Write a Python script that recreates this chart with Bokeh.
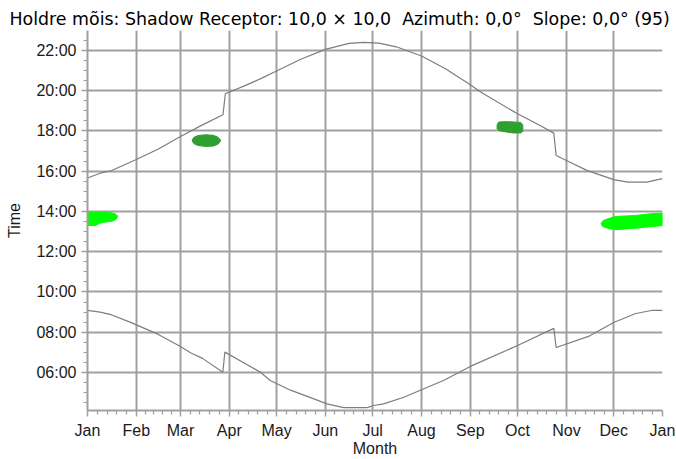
from bokeh.plotting import figure
from bokeh.models import Range1d, FixedTicker
from bokeh.embed import file_html
from bokeh.resources import INLINE

# ---------------- data ----------------
month_labels = ["Jan", "Feb", "Mar", "Apr", "May", "Jun", "Jul",
                "Aug", "Sep", "Oct", "Nov", "Dec", "Jan"]
month_start_day = [0, 31, 59, 90, 120, 151, 181, 212, 243, 273, 304, 334, 365]

time_tick_hours = [6, 8, 10, 12, 14, 16, 18, 20, 22]
time_tick_labels = ["06:00", "08:00", "10:00", "12:00", "14:00",
                    "16:00", "18:00", "20:00", "22:00"]

# sunset curve (day of year, hour)
sunset_day = [0, 8, 15, 31, 45, 59, 73, 86, 87.5, 100, 110, 120, 135, 151,
              166, 175, 185, 196, 212, 227, 243, 249.5, 273, 287, 296, 297.5,
              304, 317, 334, 343, 355, 365]
sunset_hour = [15.66, 15.90, 16.02, 16.58, 17.10, 17.72, 18.30, 18.80, 19.85,
               20.25, 20.60, 20.98, 21.55, 22.05, 22.35, 22.40, 22.36, 22.18,
               21.72, 21.10, 20.30, 19.93, 18.85, 18.28, 17.89, 16.78, 16.53,
               16.04, 15.58, 15.46, 15.46, 15.63]

# sunrise curve (day of year, hour)
sunrise_day = [0, 8, 15, 27, 45, 59, 65.4, 73, 85.9, 87.2, 100, 109.8, 116,
               128.9, 143.7, 152, 162.7, 177.5, 181.7, 188, 200.8, 213.5, 226,
               243, 273, 296, 297.5, 318, 334, 348, 358, 365]
sunrise_hour = [9.08, 9.00, 8.87, 8.50, 7.89, 7.29, 6.98, 6.70, 6.01, 7.01,
                6.45, 6.01, 5.60, 5.12, 4.69, 4.44, 4.25, 4.25, 4.36, 4.44,
                4.77, 5.19, 5.60, 6.30, 7.34, 8.19, 7.24, 7.79, 8.48, 8.93,
                9.08, 9.08]

# shadow periods (day of year, start hour, end hour)
jan_day = [0, 5, 8, 12, 16, 18, 19]
jan_start = [13.30, 13.30, 13.42, 13.48, 13.52, 13.60, 13.72]
jan_end = [13.97, 13.97, 13.96, 13.95, 13.92, 13.86, 13.78]

mar_day = [66.5, 67.5, 70, 75, 80, 83, 84.4]
mar_start = [17.50, 17.37, 17.28, 17.23, 17.25, 17.35, 17.50]
mar_end = [17.55, 17.68, 17.77, 17.81, 17.78, 17.68, 17.55]

sep_day = [260, 261, 264, 270, 275, 276.3]
sep_start = [18.12, 18.02, 17.97, 17.90, 17.90, 17.98]
sep_end = [18.30, 18.44, 18.46, 18.45, 18.42, 18.30]

dec_day = [326, 327, 329, 335, 348, 358, 365]
dec_start = [13.39, 13.25, 13.19, 13.09, 13.17, 13.25, 13.30]
dec_end = [13.39, 13.52, 13.60, 13.75, 13.80, 13.89, 13.92]

title_text = ("Holdre mõis: Shadow Receptor: 10,0 × 10,0\u00a0 Azimuth: 0,0°"
              "\u00a0 Slope: 0,0° (95)")

# ---------------- styling ----------------
FONT = "Liberation Sans"
GRID = "#a0a0a0"
CURVE = "#7d7d7d"
LIME = "#00ff00"
DARK = "#2f9f2f"

p = figure(width=676, height=459, output_backend="svg", toolbar_location=None,
           x_range=Range1d(0, 365), y_range=Range1d(4.11, 22.99),
           title=title_text,
           min_border_left=87, min_border_right=14, min_border_top=30,
           min_border_bottom=49)

p.title.align = "left"
p.title.vertical_align = "top"
p.title.offset = -78
p.title.standoff = 0
p.title.text_font = "DejaVu Sans"
p.title.text_font_size = "17.4px"
p.title.text_font_style = "normal"
p.title.text_color = "#000000"

p.outline_line_color = None
p.background_fill_color = "white"
p.border_fill_color = "white"

# axes
minor_x = []
for i in range(12):
    a, b = month_start_day[i], month_start_day[i + 1]
    for k in range(1, 5):
        minor_x.append(a + (b - a) * k / 5.0)
p.xaxis.ticker = FixedTicker(ticks=month_start_day, minor_ticks=minor_x)
p.xaxis.major_label_overrides = {d: m for d, m in zip(month_start_day, month_labels)}
p.xaxis.axis_label = "Month"

minor_y = [4.5 + 0.5 * i for i in range(38)]
p.yaxis.ticker = FixedTicker(ticks=time_tick_hours, minor_ticks=minor_y)
p.yaxis.major_label_overrides = {h: t for h, t in zip(time_tick_hours, time_tick_labels)}
p.yaxis.axis_label = "Time"

for ax in (p.xaxis[0], p.yaxis[0]):
    ax.axis_line_color = GRID
    ax.axis_line_width = 2
    ax.major_tick_line_color = GRID
    ax.minor_tick_line_color = GRID
    ax.major_tick_line_width = 1.5
    ax.minor_tick_line_width = 1.2
    ax.major_tick_in = 0
    ax.minor_tick_in = 0
    ax.major_tick_out = 6
    ax.minor_tick_out = 4
    ax.major_label_text_font = FONT
    ax.major_label_text_font_size = "16px"
    ax.major_label_text_color = "#1a1a1a"
    ax.axis_label_text_font = FONT
    ax.axis_label_text_font_size = "16px"
    ax.axis_label_text_font_style = "normal"
    ax.axis_label_text_color = "#1a1a1a"

p.xaxis.major_label_standoff = 5
p.xaxis.axis_label_standoff = -2
p.yaxis.major_label_standoff = 5
p.yaxis.axis_label_standoff = 10

p.xgrid.ticker = FixedTicker(ticks=month_start_day[:-1])
p.ygrid.ticker = FixedTicker(ticks=time_tick_hours)
for g in (p.xgrid[0], p.ygrid[0]):
    g.grid_line_color = GRID
    g.grid_line_width = 2

# curves
p.line(sunset_day, sunset_hour, line_color=CURVE, line_width=1.2)
p.line(sunrise_day, sunrise_hour, line_color=CURVE, line_width=1.2)

# shadow blobs
def blob(days, start, end, color):
    xs = list(days) + list(days)[::-1]
    ys = list(end) + list(start)[::-1]
    p.patch(xs, ys, fill_color=color, line_color=color, line_width=1)

blob(jan_day, jan_start, jan_end, LIME)
blob(dec_day, dec_start, dec_end, LIME)
blob(mar_day, mar_start, mar_end, DARK)
blob(sep_day, sep_start, sep_end, DARK)

open("out.html", "w").write(file_html(p, INLINE))
